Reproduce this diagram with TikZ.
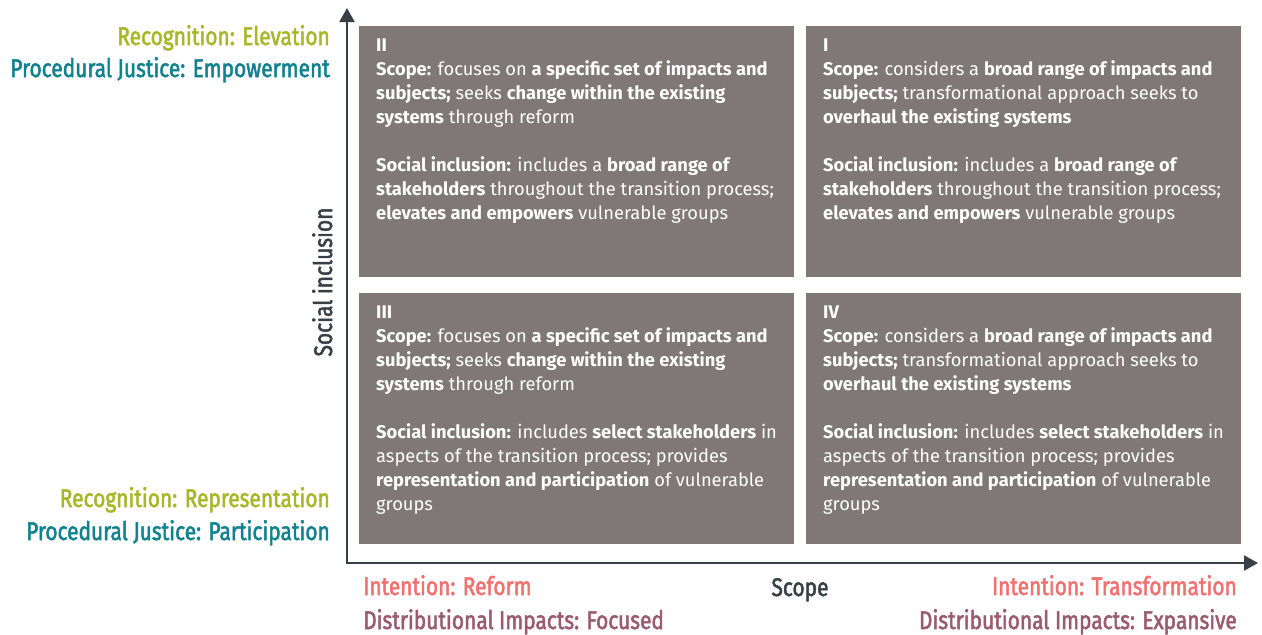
\documentclass[tikz,border=0pt]{standalone}
\usepackage{fontspec}
\setmainfont{Fira Sans}
\newfontfamily\condfont[FakeStretch=0.82, FakeBold=2]{Fira Sans}
\usetikzlibrary{arrows.meta, positioning}
\definecolor{quadgray}{RGB}{128,120,118}
\definecolor{axisdark}{RGB}{55,63,71}
\definecolor{recgreen}{RGB}{166,183,42}
\definecolor{procteal}{RGB}{18,129,143}
\definecolor{intsalmon}{RGB}{240,113,111}
\definecolor{distmauve}{RGB}{154,91,110}

\begin{document}
\begin{tikzpicture}[
      x=1pt, y=-1pt,
      quad/.style={rectangle, fill=quadgray, anchor=north west, inner sep=0pt,
                   minimum width=435pt, minimum height=251pt},
      quadtext/.style={anchor=north west, align=left, inner sep=0pt,
                       text=white, font=\fontsize{18.3}{24}\selectfont},
      axislabel/.style={inner sep=0pt, font=\condfont\fontsize{25.5}{30}\selectfont},
      axis/.style={line width=2pt, draw=axisdark,
                   {Triangle[length=14pt,width=15pt]}-{Triangle[length=14pt,width=15pt]}}
    ]
    \useasboundingbox (0,0) rectangle (1262,635);

    % the four quadrants
    \node[quad] (q2) at (359,26) {};
    \node[quad] (q1) at (806,26) {};
    \node[quad] (q3) at (359,293) {};
    \node[quad] (q4) at (806,293) {};

    \node[quadtext] (t2) at ([shift={(17,13)}]q2.north west)
      {\textbf{II}\\
       \textbf{Scope:} focuses on \textbf{a specific set of impacts and}\\
       \textbf{subjects;} seeks \textbf{change within the existing}\\
       \textbf{systems} through reform\\[24pt]
       \textbf{Social inclusion:} includes a \textbf{broad range of}\\
       \textbf{stakeholders} throughout the transition process;\\
       \textbf{elevates and empowers} vulnerable groups};
    \node[quadtext] (t1) at ([shift={(17,13)}]q1.north west)
      {\textbf{I}\\
       \textbf{Scope:} considers a \textbf{broad range of impacts and}\\
       \textbf{subjects;} transformational approach seeks to\\
       \textbf{overhaul the existing systems}\\[24pt]
       \textbf{Social inclusion:} includes a \textbf{broad range of}\\
       \textbf{stakeholders} throughout the transition process;\\
       \textbf{elevates and empowers} vulnerable groups};
    \node[quadtext] (t3) at ([shift={(17,13)}]q3.north west)
      {\textbf{III}\\
       \textbf{Scope:} focuses on \textbf{a specific set of impacts and}\\
       \textbf{subjects;} seeks \textbf{change within the existing}\\
       \textbf{systems} through reform\\[24pt]
       \textbf{Social inclusion:} includes \textbf{select stakeholders} in\\
       aspects of the transition process; provides\\
       \textbf{representation and participation} of vulnerable\\
       groups};
    \node[quadtext] (t4) at ([shift={(17,13)}]q4.north west)
      {\textbf{IV}\\
       \textbf{Scope:} considers a \textbf{broad range of impacts and}\\
       \textbf{subjects;} transformational approach seeks to\\
       \textbf{overhaul the existing systems}\\[24pt]
       \textbf{Social inclusion:} includes \textbf{select stakeholders} in\\
       aspects of the transition process; provides\\
       \textbf{representation and participation} of vulnerable\\
       groups};

    % axes
    \coordinate (origin) at (347,563);
    \coordinate (ytip) at (347,8);
    \coordinate (xtip) at (1258,563);
    \draw[axis] (ytip) -- (origin) -- (xtip);

    \node[axislabel, text=axisdark, rotate=90, anchor=base] (ylab) at (332,282) {Social inclusion};
    \node[axislabel, text=axisdark, anchor=base] (xlab) at (800,596) {Scope};

    % labels along the vertical axis
    \node[axislabel, text=recgreen, anchor=base east] (rec-hi) at (330,45) {Recognition: Elevation};
    \node[axislabel, text=procteal, anchor=base east] (proc-hi) at (330,77) {Procedural Justice: Empowerment};
    \node[axislabel, text=recgreen, anchor=base east] (rec-lo) at (330,507) {Recognition: Representation};
    \node[axislabel, text=procteal, anchor=base east] (proc-lo) at (330,540) {Procedural Justice: Participation};

    % labels along the horizontal axis
    \node[axislabel, text=intsalmon, anchor=base west] (int-lo) at (363,595) {Intention: Reform};
    \node[axislabel, text=distmauve, anchor=base west] (dist-lo) at (363,629) {Distributional Impacts: Focused};
    \node[axislabel, text=intsalmon, anchor=base east] (int-hi) at (1237,595) {Intention: Transformation};
    \node[axislabel, text=distmauve, anchor=base east] (dist-hi) at (1237,629) {Distributional Impacts: Expansive};
  \end{tikzpicture}
\end{document}
